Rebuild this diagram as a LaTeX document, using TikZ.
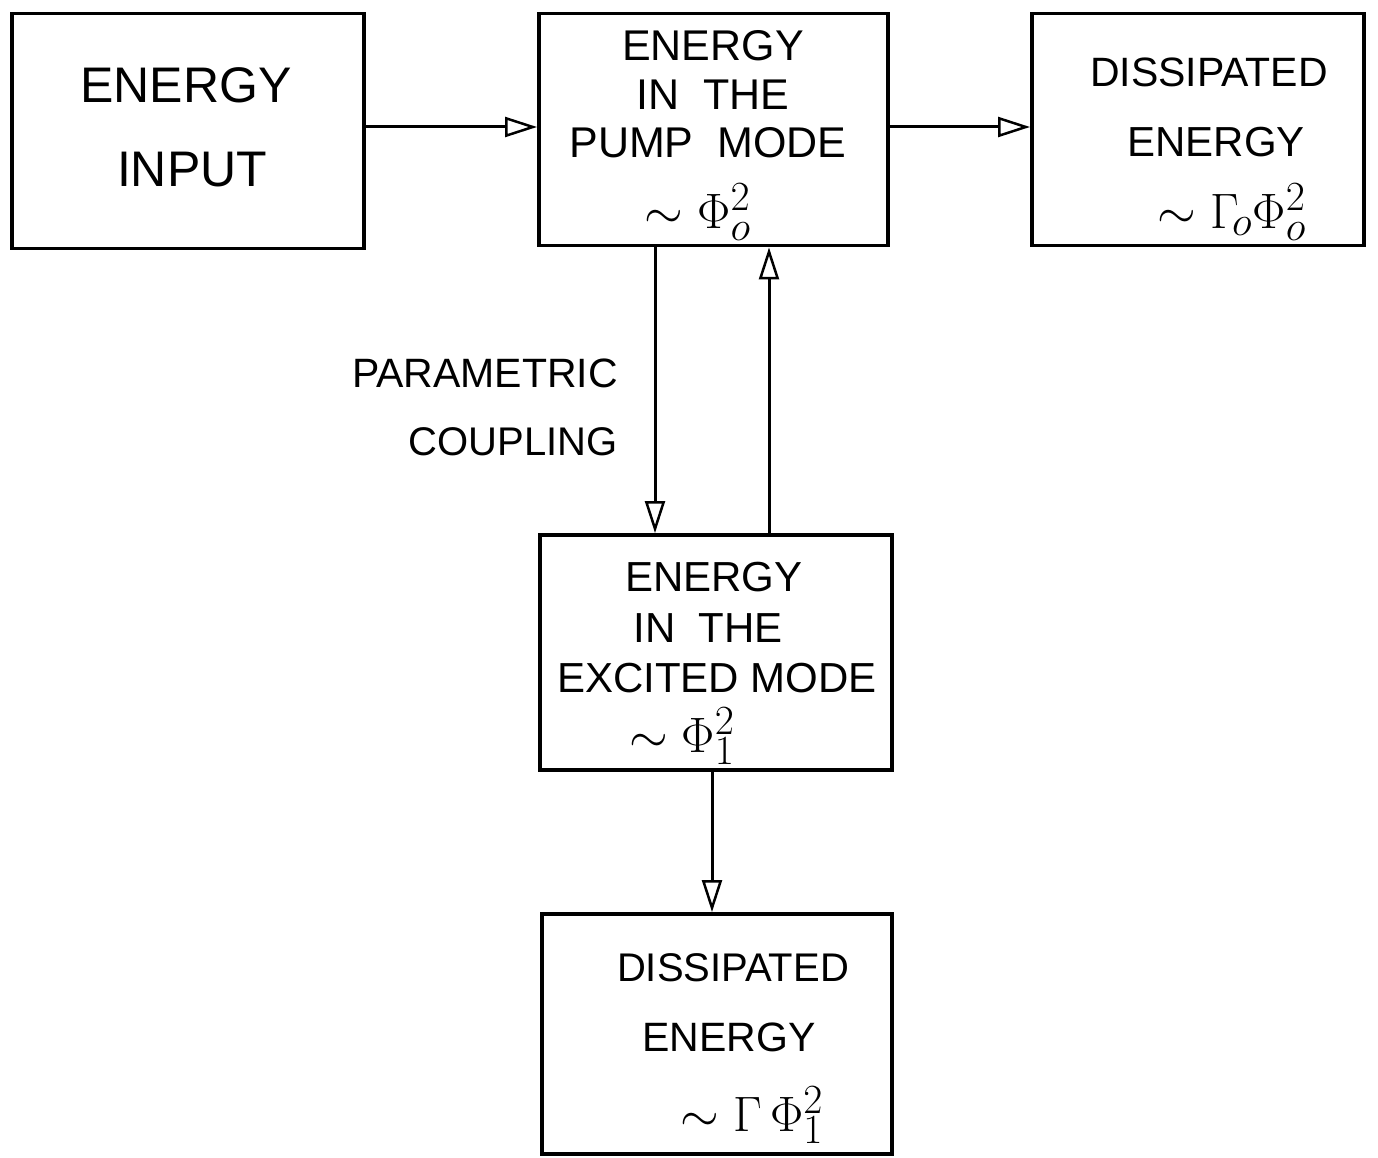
\documentclass[tikz,border=0pt]{standalone}
\usepackage{graphicx}
\usepackage{fontspec}
\setmainfont{Liberation Sans}
\usetikzlibrary{arrows.meta}
\tikzset{
  box/.style={draw, line width=3.5pt, inner sep=0pt, anchor=north west},
  lbl/.style={inner sep=0pt, anchor=center},
  arr/.style={line width=3pt, -{Triangle[open, length=32pt, width=20pt, line width=2.5pt]}},
}
\newcommand{\fs}[1]{\fontsize{#1}{#1}\selectfont}
\newcommand{\mymath}[1]{\scalebox{2.0}{\fontsize{24.88}{26}\selectfont$#1$}}
\begin{document}
\begin{tikzpicture}[x=1pt, y=-1pt]
\useasboundingbox (0,0) rectangle (1378,1158);
% boxes
\node[box, minimum width=352pt, minimum height=235pt] (inp) at (10,12) {};
\node[box, minimum width=349pt, minimum height=232pt] (pump) at (537,12) {};
\node[box, minimum width=332pt, minimum height=232pt] (dis0) at (1030,12) {};
\node[box, minimum width=352pt, minimum height=235pt] (exc) at (538,533) {};
\node[box, minimum width=350pt, minimum height=240pt] (dis1) at (540,912) {};
% texts box 1
\node[lbl, font=\fs{50}] (t1a) at (186,85) {ENERGY};
\node[lbl, font=\fs{50}] (t1b) at (192,170) {INPUT};
% box 2
\node[lbl, font=\fs{43}] (t2a) at (713,46) {ENERGY};
\node[lbl, font=\fs{43}] (t2b) at (713,95) {IN\ \ THE};
\node[lbl, font=\fs{43}] (t2c) at (708,143) {PUMP\ \ MODE};
\node[lbl] (t2d) at (698,212) {\mymath{\sim\Phi_{o}^{2}}};
% box 3
\node[lbl, font=\fs{41}] (t3a) at (1209,72) {DISSIPATED};
\node[lbl, font=\fs{42}] (t3b) at (1216,142) {ENERGY};
\node[lbl] (t3c) at (1232,212) {\mymath{\sim\Gamma_{\!o}\Phi_{o}^{2}}};
% parametric coupling
\node[lbl, font=\fs{41}, anchor=east] (pc1) at (618,373) {PARAMETRIC};
\node[lbl, font=\fs{40}, anchor=east] (pc2) at (618,442) {COUPLING};
% box 4
\node[lbl, font=\fs{42}] (t4a) at (714,577) {ENERGY};
\node[lbl, font=\fs{42}] (t4b) at (708,628) {IN\ \ THE};
\node[lbl, font=\fs{42}] (t4c) at (717,678) {EXCITED MODE};
\node[lbl] (t4d) at (682,736) {\mymath{\sim\Phi_{1}^{2}}};
% box 5
\node[lbl, font=\fs{40}] (t5a) at (733,968) {DISSIPATED};
\node[lbl, font=\fs{41}] (t5b) at (729,1037) {ENERGY};
\node[lbl] (t5c) at (752,1115) {\mymath{\sim\Gamma\,\Phi_{1}^{2}}};
% arrow coordinates
\coordinate (xa) at (655,0);
\coordinate (xb) at (769,0);
\coordinate (xc) at (712,0);
\coordinate (ya) at (0,127);
% arrows
\draw[arr] (inp.east |- ya) -- (pump.west |- ya);
\draw[arr] (pump.east |- ya) -- (dis0.west |- ya);
\draw[arr] (pump.south -| xa) -- (exc.north -| xa);
\draw[arr] (exc.north -| xb) -- (pump.south -| xb);
\draw[arr] (exc.south -| xc) -- (dis1.north -| xc);
\end{tikzpicture}
\end{document}
